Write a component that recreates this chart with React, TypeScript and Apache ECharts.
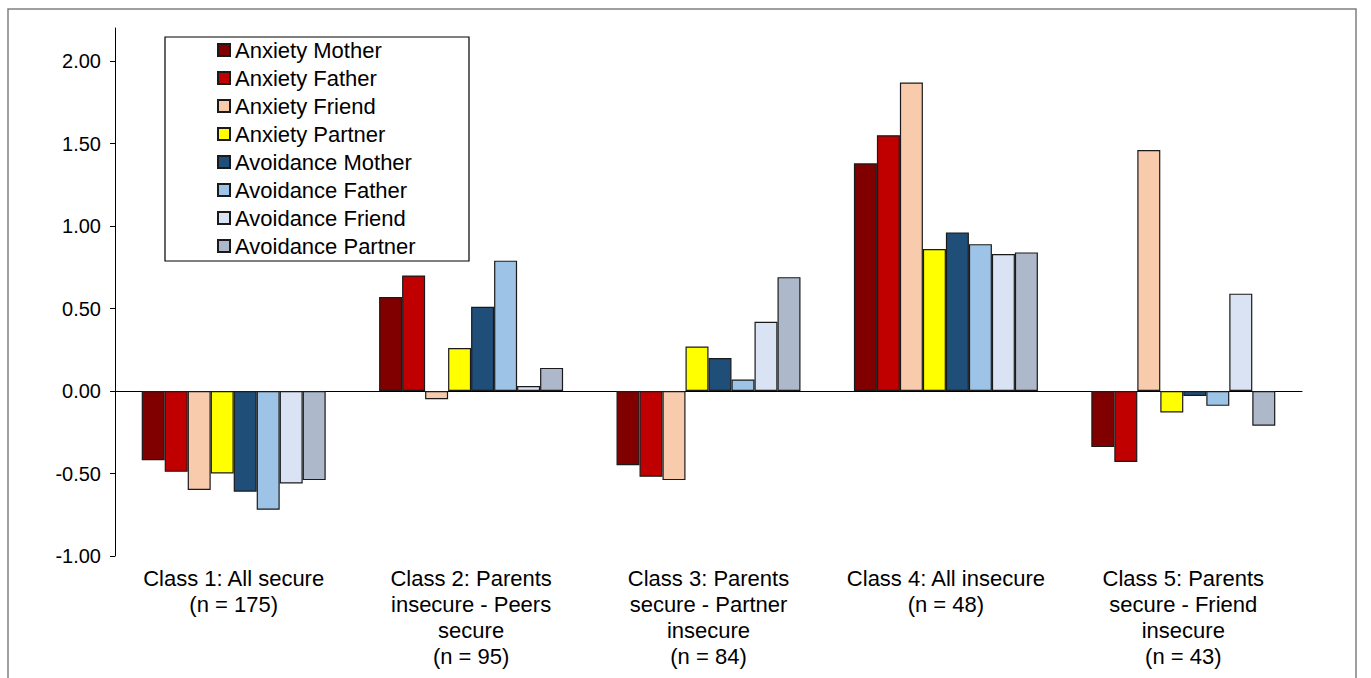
import React, { useEffect, useRef } from "react";
import * as echarts from "echarts";

const categories = [
  "Class 1: All secure\n(n = 175)",
  "Class 2: Parents\ninsecure - Peers\nsecure\n(n = 95)",
  "Class 3: Parents\nsecure - Partner\ninsecure\n(n = 84)",
  "Class 4: All insecure\n(n = 48)",
  "Class 5: Parents\nsecure - Friend\ninsecure\n(n = 43)",
];

const seriesNames = [
  "Anxiety Mother",
  "Anxiety Father",
  "Anxiety Friend",
  "Anxiety Partner",
  "Avoidance Mother",
  "Avoidance Father",
  "Avoidance Friend",
  "Avoidance Partner",
];

const seriesColors = [
  "#800000",
  "#C00000",
  "#F8CBAD",
  "#FFFF00",
  "#1F4E79",
  "#9DC3E6",
  "#DAE3F3",
  "#ADB9CA",
];

const anxietyMother = [-0.42, 0.57, -0.45, 1.38, -0.34];
const anxietyFather = [-0.49, 0.7, -0.52, 1.55, -0.43];
const anxietyFriend = [-0.6, -0.05, -0.54, 1.87, 1.46];
const anxietyPartner = [-0.5, 0.26, 0.27, 0.86, -0.13];
const avoidanceMother = [-0.61, 0.51, 0.2, 0.96, -0.03];
const avoidanceFather = [-0.72, 0.79, 0.07, 0.89, -0.09];
const avoidanceFriend = [-0.56, 0.03, 0.42, 0.83, 0.59];
const avoidancePartner = [-0.54, 0.14, 0.69, 0.84, -0.21];

const yTickValues = [-1, -0.5, 0, 0.5, 1, 1.5, 2];

const FONT = "'Liberation Sans', Arial, sans-serif";

export default function App() {
  const ref = useRef<HTMLDivElement>(null);

  useEffect(() => {
    if (!ref.current) return;
    const chart = echarts.init(ref.current, null, { renderer: "svg" });
    const allData = [
      anxietyMother,
      anxietyFather,
      anxietyFriend,
      anxietyPartner,
      avoidanceMother,
      avoidanceFather,
      avoidanceFriend,
      avoidancePartner,
    ];
    chart.setOption({
      animation: false,
      backgroundColor: "#ffffff",
      textStyle: { fontFamily: FONT },
      grid: { left: 115, top: 28, width: 1187, height: 528, containLabel: false },
      legend: {
        orient: "vertical",
        left: 217,
        top: 39,
        padding: 0,
        itemWidth: 12,
        itemHeight: 12,
        itemGap: 6,
        icon: "rect",
        textStyle: { fontSize: 22, lineHeight: 22, color: "#000", fontFamily: FONT },
        data: seriesNames,
      },
      xAxis: [
        {
          type: "category",
          data: categories,
          position: "bottom",
          axisLine: { show: false, onZero: false },
          axisTick: { show: false },
          splitLine: { show: false },
          axisLabel: {
            interval: 0,
            margin: 9,
            fontSize: 22,
            lineHeight: 26,
            color: "#000",
            fontFamily: FONT,
            align: "center",
          },
        },
        {
          type: "category",
          data: categories,
          position: "top",
          axisLine: { show: true, onZero: true, lineStyle: { color: "#000", width: 1 } },
          axisTick: { show: false },
          axisLabel: { show: false },
          splitLine: { show: false },
        },
      ],
      yAxis: {
        type: "value",
        min: -1,
        max: 2.2,
        interval: 0.5,
        axisLine: { show: true, lineStyle: { color: "#000", width: 1 } },
        axisTick: {
          show: true,
          length: 5,
          lineStyle: { color: "#000" },
          customValues: yTickValues,
        },
        splitLine: { show: false },
        axisLabel: {
          margin: 14,
          fontSize: 20,
          color: "#000",
          fontFamily: FONT,
          customValues: yTickValues,
          formatter: (v: number) => (v > 2.05 ? "" : v.toFixed(2)),
        },
      },
      graphic: [
        {
          type: "rect",
          shape: { x: 8, y: 9, width: 1348, height: 720 },
          style: { fill: "none", stroke: "#808080", lineWidth: 1.5 },
          silent: true,
          z: -10,
        },
        {
          type: "rect",
          shape: { x: 165, y: 37, width: 304, height: 224 },
          style: { fill: "none", stroke: "#000", lineWidth: 1.2 },
          silent: true,
        },
      ],
      series: seriesNames.map((name, i) => ({
        name,
        type: "bar",
        xAxisIndex: 0,
        barGap: "0%",
        barCategoryGap: "22.5%",
        data: allData[i],
        itemStyle: {
          color: seriesColors[i],
          borderColor: "#1a1a1a",
          borderWidth: 1.2,
        },
      })),
    });
    return () => chart.dispose();
  }, []);

  return (
    <div
      ref={ref}
      style={{ position: "fixed", left: 0, top: 0, width: 1371, height: 678 }}
    />
  );
}
